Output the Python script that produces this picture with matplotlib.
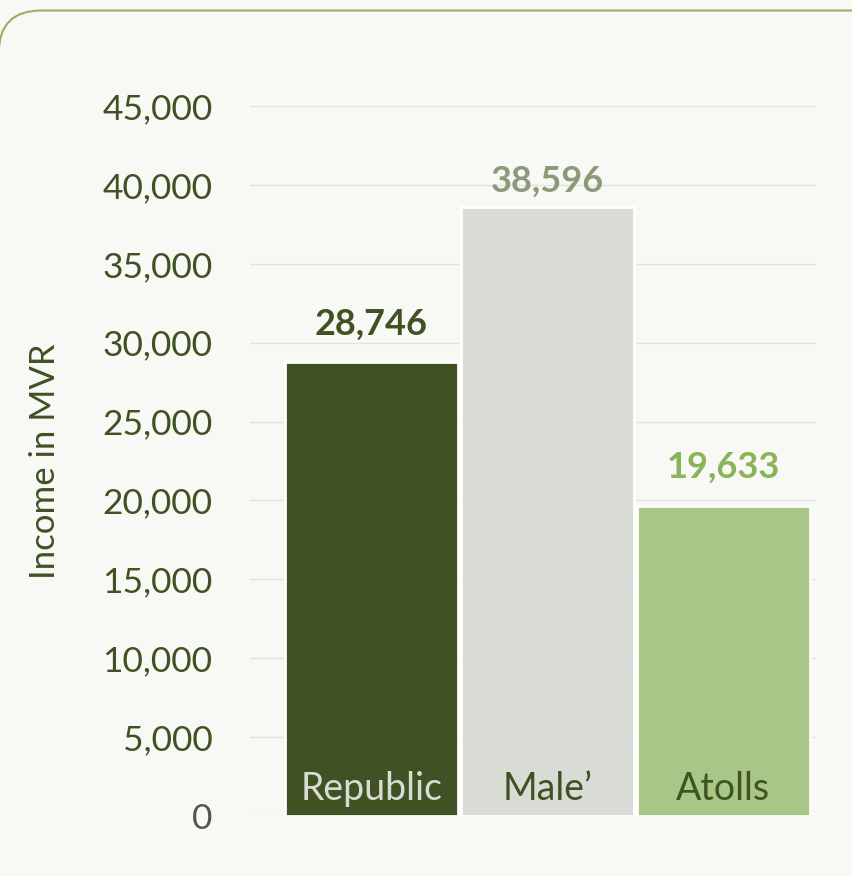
import matplotlib
matplotlib.use("Agg")
import matplotlib.pyplot as plt
from matplotlib.patches import FancyBboxPatch
from matplotlib.ticker import FuncFormatter

categories = ["Republic", "Male’", "Atolls"]
values = [28746, 38596, 19633]
bar_colors = ["#3f5224", "#d9dcd5", "#a8c686"]
value_colors = ["#3f5224", "#8a9a7a", "#8ab35a"]
cat_colors = ["#d9dcd3", "#3f5224", "#3f5224"]
yticks = [0, 5000, 10000, 15000, 20000, 25000, 30000, 35000, 40000, 45000]

FONT = ["Lato", "DejaVu Sans"]
plt.rcParams['font.family'] = FONT

fig = plt.figure(figsize=(8.52, 8.76), dpi=100)
fig.patch.set_facecolor("#f8f9f5")

# rounded frame
frame = FancyBboxPatch((-0.0015, -0.2), 1.2, 0.2 + 0.988, boxstyle="round,pad=0,rounding_size=0.05",
                       transform=fig.transFigure, facecolor="#f8f9f5", edgecolor="#9aae66",
                       linewidth=1.5, zorder=0, mutation_aspect=852/876)
fig.patches.append(frame)

ax = fig.add_axes([250/852, 60/876, 566/852, 710/876])
ax.set_zorder(2)
ax.set_facecolor("none")
x = list(range(len(categories)))
ax.bar(x, values, width=0.983, color=bar_colors, edgecolor="white", linewidth=2, zorder=3)
ax.set_xlim(-0.690, 2.528)
ax.set_ylim(0, 45000)
ax.set_yticks(yticks)
ax.yaxis.set_major_formatter(FuncFormatter(lambda v, p: f"{int(v):,}"))
ax.grid(axis="y", color="#e2e3de", linewidth=1, zorder=0)
ax.set_xticks([])
for s in ax.spines.values():
    s.set_visible(False)
ax.tick_params(axis="y", length=0, pad=27, labelsize=25.5, labelcolor="#3f5224")
for lbl in ax.get_yticklabels():
    if lbl.get_text() == "0":
        lbl.set_color("#555555")
ax.set_ylabel("Income in MVR", fontsize=25, color="#3f5224", labelpad=30)

for xi, v, vc, cc, c in zip(x, values, value_colors, cat_colors, categories):
    ax.text(xi, min(v + 1400, 39200), f"{v:,}", ha="center", va="bottom", fontsize=26,
            fontweight="bold", color=vc)
    ax.text(xi, 1700, c, ha="center", va="center", fontsize=27, color=cc, zorder=4)

fig.savefig("out.png", dpi=100, facecolor=fig.get_facecolor())
